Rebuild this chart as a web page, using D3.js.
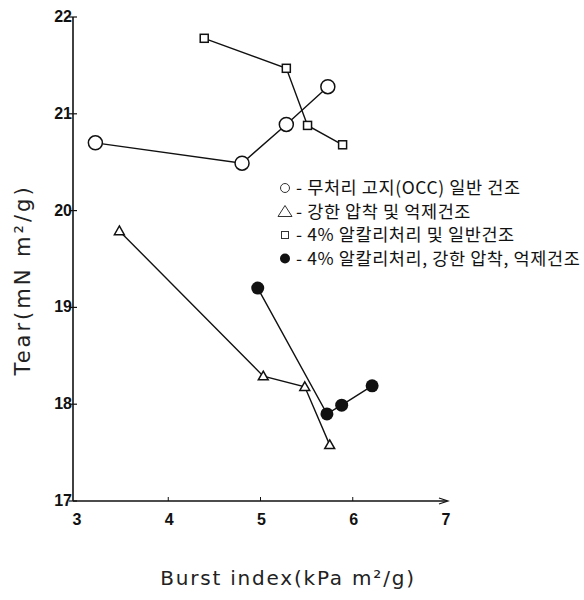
<!DOCTYPE html>
<html>
<head>
<meta charset="utf-8">
<script src="https://cdn.jsdelivr.net/npm/d3@7"></script>
<style>
  body { margin: 0; background: #fff; }
  svg { display: block; }
</style>
</head>
<body>
<div id="chart"></div>
<script>
// values
const untreated_burst = [3.21, 4.80, 5.28, 5.73];
const untreated_tear = [20.70, 20.49, 20.89, 21.28];
const pressed_burst = [3.47, 5.03, 5.48, 5.75];
const pressed_tear = [19.79, 18.29, 18.18, 17.58];
const alkali_burst = [4.39, 5.28, 5.51, 5.89];
const alkali_tear = [21.78, 21.47, 20.88, 20.68];
const alkaliPressed_burst = [4.97, 5.72, 5.88, 6.21];
const alkaliPressed_tear = [19.20, 17.90, 17.99, 18.19];

const x_ticks = [3, 4, 5, 6, 7];
const y_ticks = [17, 18, 19, 20, 21, 22];
const legend_labels = [
  '무처리 고지(OCC) 일반 건조',
  '강한 압착 및 억제건조',
  '4% 알칼리처리 및 일반건조',
  '4% 알칼리처리, 강한 압착, 억제건조'
];

const width = 584, height = 600;
const svg = d3.select('#chart').append('svg')
  .attr('width', width)
  .attr('height', height);

const x = d3.scaleLinear().domain([3, 7]).range([76, 445]);
const y = d3.scaleLinear().domain([17, 22]).range([501, 17]);

const series = [
  { burst: untreated_burst, tear: untreated_tear, shape: 'circle' },
  { burst: pressed_burst, tear: pressed_tear, shape: 'triangle' },
  { burst: alkali_burst, tear: alkali_tear, shape: 'square' },
  { burst: alkaliPressed_burst, tear: alkaliPressed_tear, shape: 'dot' }
];

// axes
svg.append('line')
  .attr('x1', 73).attr('y1', y(22))
  .attr('x2', 73).attr('y2', y(17))
  .attr('stroke', '#111').attr('stroke-width', 1.6);
svg.append('line')
  .attr('x1', 73).attr('y1', y(17))
  .attr('x2', x(7) + 2).attr('y2', y(17))
  .attr('stroke', '#111').attr('stroke-width', 1.6);
svg.append('path')
  .attr('d', `M${x(7) - 6},${y(17) - 3} L${x(7) + 3},${y(17)} L${x(7) - 6},${y(17) + 3}`)
  .attr('fill', 'none').attr('stroke', '#111').attr('stroke-width', 1.2);

svg.selectAll('.ytick')
  .data(y_ticks)
  .join('line')
  .attr('class', 'ytick')
  .attr('x1', 69).attr('x2', 77)
  .attr('y1', d => y(d)).attr('y2', d => y(d))
  .attr('stroke', '#111').attr('stroke-width', 1.2);

svg.selectAll('.ylab')
  .data(y_ticks)
  .join('text')
  .attr('class', 'ylab')
  .attr('x', 72)
  .attr('y', d => y(d) + 5)
  .attr('text-anchor', 'end')
  .attr('font-family', 'Liberation Sans, Arial, sans-serif')
  .attr('font-weight', 'bold')
  .attr('font-size', '16px')
  .attr('fill', '#111')
  .text(d => d);

svg.selectAll('.xtick')
  .data(x_ticks.slice(1, 4))
  .join('line')
  .attr('class', 'xtick')
  .attr('x1', d => x(d)).attr('x2', d => x(d))
  .attr('y1', y(17)).attr('y2', y(17) - 4)
  .attr('stroke', '#111').attr('stroke-width', 1);

svg.selectAll('.xlab')
  .data(x_ticks)
  .join('text')
  .attr('class', 'xlab')
  .attr('x', d => x(d) + 1)
  .attr('y', 525)
  .attr('text-anchor', 'middle')
  .attr('font-family', 'Liberation Sans, Arial, sans-serif')
  .attr('font-weight', 'bold')
  .attr('font-size', '16px')
  .attr('fill', '#111')
  .text(d => d);

// axis titles
svg.append('text')
  .attr('transform', 'translate(30,280) rotate(-90)')
  .attr('text-anchor', 'middle')
  .attr('font-family', 'DejaVu Sans, sans-serif')
  .attr('font-size', '21px')
  .attr('letter-spacing', '3px')
  .attr('fill', '#222')
  .text('Tear(mN m²/g)');

svg.append('text')
  .attr('x', 288)
  .attr('y', 585)
  .attr('text-anchor', 'middle')
  .attr('font-family', 'DejaVu Sans, sans-serif')
  .attr('font-size', '20px')
  .attr('letter-spacing', '1.8px')
  .attr('fill', '#222')
  .text('Burst index(kPa m²/g)');

// lines
const line = d3.line().x(d => x(d[0])).y(d => y(d[1]));
series.forEach(s => {
  const pts = s.burst.map((b, i) => [b, s.tear[i]]);
  svg.append('path')
    .attr('d', line(pts))
    .attr('fill', 'none')
    .attr('stroke', '#111')
    .attr('stroke-width', 1.4);
});

function drawMarker(g, shape, size) {
  if (shape === 'circle') {
    g.append('circle').attr('r', size).attr('fill', '#fff')
      .attr('stroke', '#111').attr('stroke-width', 1.5);
  } else if (shape === 'dot') {
    g.append('circle').attr('r', size).attr('fill', '#111');
  } else if (shape === 'square') {
    g.append('rect').attr('x', -size).attr('y', -size)
      .attr('width', size * 2).attr('height', size * 2)
      .attr('fill', '#fff').attr('stroke', '#111').attr('stroke-width', 1.5);
  } else {
    const h = size * 1.1;
    g.append('path')
      .attr('d', `M0,${-h} L${h},${h * 0.75} L${-h},${h * 0.75} Z`)
      .attr('fill', '#fff').attr('stroke', '#111').attr('stroke-width', 1.5);
  }
}

const sizes = { circle: 7, triangle: 4.5, square: 4, dot: 6.5 };
series.forEach(s => {
  s.burst.forEach((b, i) => {
    const g = svg.append('g')
      .attr('transform', `translate(${x(b)},${y(s.tear[i])})`);
    drawMarker(g, s.shape, sizes[s.shape]);
  });
});

// legend
const legend = svg.append('g').attr('transform', 'translate(285,188)');
series.forEach((s, i) => {
  const row = legend.append('g').attr('transform', `translate(0,${i * 23.5})`);
  const mg = row.append('g');
  if (s.shape === 'circle') {
    mg.append('circle').attr('r', 4.5).attr('fill', '#fff')
      .attr('stroke', '#333').attr('stroke-width', 1);
  } else if (s.shape === 'dot') {
    mg.append('circle').attr('r', 5).attr('fill', '#111');
  } else if (s.shape === 'square') {
    mg.append('rect').attr('x', -3.5).attr('y', -3.5).attr('width', 7).attr('height', 7)
      .attr('fill', '#fff').attr('stroke', '#333').attr('stroke-width', 1);
  } else {
    mg.append('path').attr('d', 'M0,-6 L7,5 L-7,5 Z')
      .attr('fill', '#fff').attr('stroke', '#333').attr('stroke-width', 1);
  }
  row.append('text')
    .attr('x', 11)
    .attr('y', 6)
    .attr('font-family', 'Noto Sans CJK KR, sans-serif')
    .attr('font-size', '17.5px')
    .attr('letter-spacing', '0.6px')
    .attr('fill', '#111')
    .text('- ' + legend_labels[i]);
});
</script>
</body>
</html>
